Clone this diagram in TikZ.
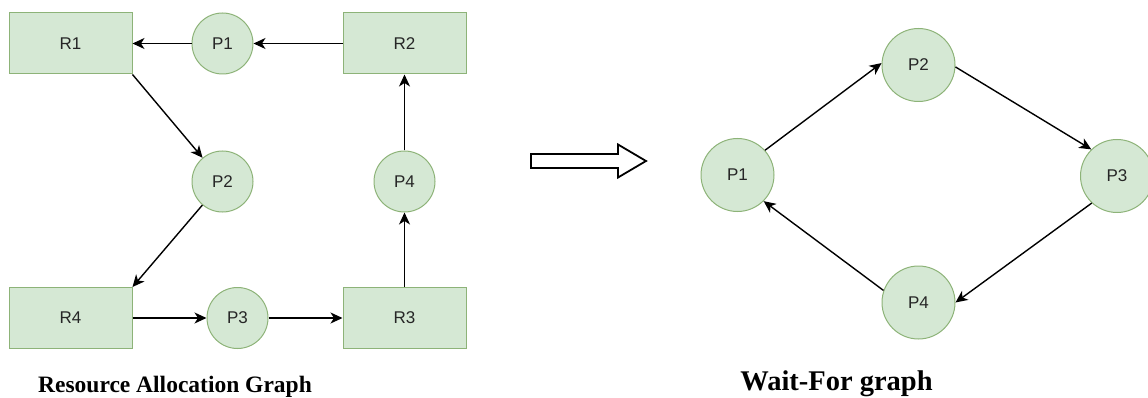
\documentclass[tikz,border=0pt]{standalone}
\usepackage{fontspec}
\setmainfont{Liberation Serif}
\newfontfamily\boxfont{Liberation Sans}
\usepackage{xcolor}
\usetikzlibrary{arrows.meta}
\definecolor{nodefill}{HTML}{D5E8D4}
\definecolor{nodeline}{HTML}{8DB378}

\begin{document}
\begin{tikzpicture}[x=1pt, y=-1pt, every node/.style={font=\boxfont\fontsize{17}{20}\selectfont, text=black!85}]
  \tikzset{res/.style={rectangle, draw=nodeline, fill=nodefill, line width=1pt, minimum width=123pt, minimum height=61pt, inner sep=0pt}}
  \tikzset{proc/.style={circle, draw=nodeline, fill=nodefill, line width=1pt, minimum size=61pt, inner sep=0pt}}
  \tikzset{bigproc/.style={proc, minimum size=73pt}}
  \tikzset{flow/.style={-{Stealth[length=12pt, width=11pt, inset=3.5pt]}, line width=1.4pt}}
  \useasboundingbox (0,0) rectangle (1148,398);
  % resource allocation graph
  \node[res]  (r1) at ( 70.5, 43.5) {R1};
  \node[proc] (p1) at (222.5, 43.5) {P1};
  \node[res]  (r2) at (404.5, 43.5) {R2};
  \node[proc] (p2) at (222.5,181.5) {P2};
  \node[proc] (p4) at (404.5,181.5) {P4};
  \node[res]  (r4) at ( 70.5,318.0) {R4};
  \node[proc] (p3) at (237.5,318.0) {P3};
  \node[res]  (r3) at (404.5,318.0) {R3};
  \draw[flow] (r2) -- (p1);
  \draw[flow] (p1) -- (r1);
  \draw[flow] (r1.south east) -- (p2);
  \draw[flow] (p2) -- (r4.north east);
  \draw[flow] (r4) -- (p3);
  \draw[flow] (p3) -- (r3);
  \draw[flow] (r3) -- (p4);
  \draw[flow] (p4) -- (r2);
  \node[font=\bfseries\fontsize{23.5}{28}\selectfont, anchor=base, text=black] (ragtitle) at (175,392) {Resource Allocation Graph};
  % hollow arrow between the graphs
  \draw[line width=1.8pt] (531,154) -- (618,154) -- (618,144.5) -- (646,161) -- (618,177.5) -- (618,168) -- (531,168) -- cycle;
  % wait-for graph
  \node[bigproc] (w1) at ( 737.5,175.0) {P1};
  \node[bigproc] (w2) at ( 918.5, 65.0) {P2};
  \node[bigproc] (w3) at (1117.0,176.0) {P3};
  \node[bigproc] (w4) at ( 918.5,302.5) {P4};
  \draw[flow] (w1.42) -- (w2.177);
  \draw[flow] (w2.-3) -- (w3.134);
  \draw[flow] (w3.227) -- (w4.0);
  \draw[flow] (w4.161) -- (w1.-45);
  \node[font=\bfseries\fontsize{28.5}{34}\selectfont, anchor=base, text=black] (wfgtitle) at (836.5,390) {Wait-For graph};
\end{tikzpicture}
\end{document}
